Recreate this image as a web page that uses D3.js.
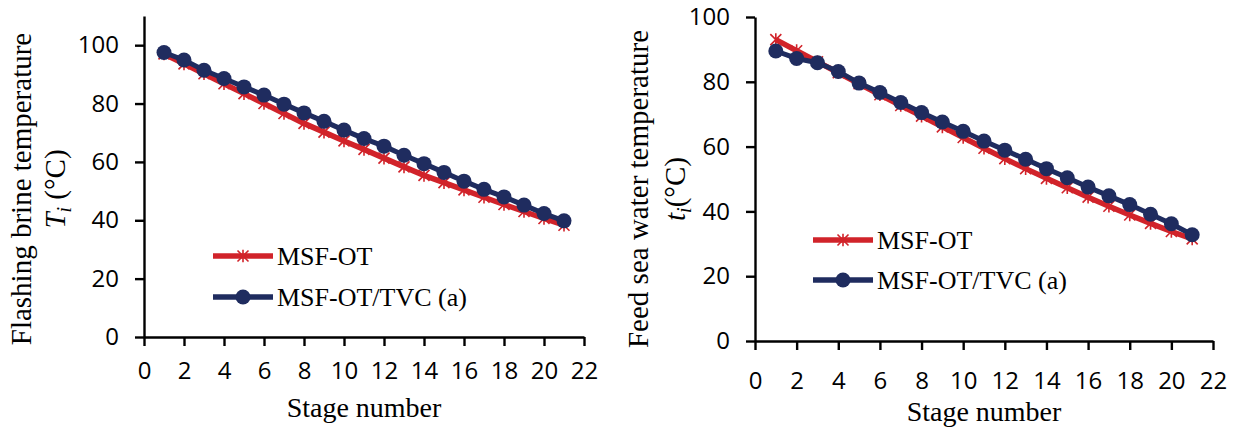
<!DOCTYPE html>
<html>
<head>
<meta charset="utf-8">
<script src="https://cdn.jsdelivr.net/npm/d3@7"></script>
<style>
  body { margin: 0; background: #fff; }
  svg { display: block; }
</style>
</head>
<body>
<div id="chart"></div>
<script>
// Data
var stages = d3.range(1, 22);
var brineOT  = [97.0, 93.6, 90.2, 86.8, 83.4, 80.0, 76.6, 73.2, 70.2, 67.2, 64.3, 61.3, 58.3, 55.4, 52.9, 50.4, 47.9, 45.4, 43.0, 40.6, 38.3];
var brineTVC = [97.5, 94.9, 91.4, 88.6, 85.7, 82.9, 79.8, 76.8, 73.9, 70.9, 68.0, 65.4, 62.3, 59.4, 56.4, 53.4, 50.6, 48.0, 45.2, 42.3, 39.8];
var feedOT   = [93.0, 89.6, 86.2, 82.8, 79.4, 76.0, 72.7, 69.4, 66.1, 62.8, 59.5, 56.3, 53.2, 50.2, 47.3, 44.4, 41.6, 38.9, 36.3, 33.8, 31.5];
var feedTVC  = [89.5, 87.2, 85.9, 83.2, 79.6, 76.7, 73.6, 70.5, 67.6, 64.7, 61.7, 58.9, 56.1, 53.2, 50.4, 47.5, 44.8, 42.1, 39.1, 36.2, 32.8];
var xTicks = d3.range(0, 23, 2);
var yTicks = [0, 20, 40, 60, 80, 100];
var seriesNames = ["MSF-OT", "MSF-OT/TVC (a)"];

var red = "#d1232a";
var navy = "#1f2c5f";

var svg = d3.select("#chart")
            .append("svg")
            .attr("width", 1236)
            .attr("height", 439);

// Panel settings
var panels = [
  {x0: 144, x1: 584, y0: 337, y1: 16, ymax: 110, ot: brineOT, tvc: brineTVC,
   title1: "Flashing brine temperature", sym: "T", sep: " ", t1x: 31, t2x: 65, tcy: 189,
   xlabPad: 16, xtitleY: 417, legX: 213, legY: [256, 297]},
  {x0: 755, x1: 1213, y0: 341, y1: 17, ymax: 100, ot: feedOT, tvc: feedTVC,
   title1: "Feed sea water temperature", sym: "t", sep: "", t1x: 648, t2x: 685, tcy: 189,
   xlabPad: 22, xtitleY: 421, legX: 813, legY: [240, 280]}
];

// Asterisk marker (x plus vertical bar)
function asterisk(s) {
  return "M" + (-s) + "," + (-s) + "L" + s + "," + s +
         "M" + (-s) + "," + s + "L" + s + "," + (-s) +
         "M0," + (-s * 1.15) + "L0," + (s * 1.15);
}

panels.forEach(function(p) {
  var x = d3.scaleLinear().domain([0, 22]).range([p.x0, p.x1]);
  var y = d3.scaleLinear().domain([0, p.ymax]).range([p.y0, p.y1]);

  // Axes
  var gx = svg.append("g")
              .attr("transform", "translate(0," + p.y0 + ")")
              .call(d3.axisBottom(x).tickValues(xTicks).tickSize(9).tickSizeOuter(0).tickPadding(p.xlabPad));
  var gy = svg.append("g")
               .attr("transform", "translate(" + p.x0 + ",0)")
               .call(d3.axisLeft(y).tickValues(yTicks).tickSize(9).tickSizeOuter(0).tickPadding(16));

  [gx, gy].forEach(function(g) {
    g.select(".domain").attr("stroke", "#000").attr("stroke-width", 2.4);
    g.selectAll(".tick line").attr("stroke", "#000").attr("stroke-width", 2.4);
    g.selectAll(".tick text")
     .attr("fill", "#000")
     .style("font-family", "'Open Sans', sans-serif")
     .style("font-size", "24px");
  });

  // Axis titles
  svg.append("text")
     .attr("transform", "translate(" + ((p.x0 + p.x1) / 2) + "," + p.xtitleY + ")")
     .attr("text-anchor", "middle")
     .style("font-family", "'Liberation Serif', 'Times New Roman', serif")
     .style("font-size", "28px")
     .text("Stage number");

  svg.append("text")
     .attr("transform", "translate(" + p.t1x + "," + p.tcy + ") rotate(-90)")
     .attr("text-anchor", "middle")
     .style("font-family", "'Liberation Serif', 'Times New Roman', serif")
     .style("font-size", "29px")
     .text(p.title1);

  var t2 = svg.append("text")
              .attr("transform", "translate(" + p.t2x + "," + p.tcy + ") rotate(-90)")
              .attr("text-anchor", "middle")
              .style("font-family", "'Liberation Serif', 'Times New Roman', serif")
              .style("font-size", "29px");
  t2.append("tspan").style("font-style", "italic").text(p.sym);
  t2.append("tspan").style("font-style", "italic").style("font-size", "20px").attr("dy", 6).text("i");
  t2.append("tspan").attr("dy", -6).text(p.sep + "(°C)");

  var line = d3.line()
               .x(function(d, i) { return x(stages[i]); })
               .y(function(d) { return y(d); });

  // MSF-OT series
  svg.append("path")
     .datum(p.ot)
     .attr("d", line)
     .attr("fill", "none")
     .attr("stroke", red)
     .attr("stroke-width", 5.5);
  svg.append("g")
     .selectAll("path")
     .data(p.ot)
     .enter().append("path")
     .attr("transform", function(d, i) { return "translate(" + x(stages[i]) + "," + y(d) + ")"; })
     .attr("d", asterisk(5.5))
     .attr("stroke", red)
     .attr("stroke-width", 1.6);

  // MSF-OT/TVC series
  svg.append("path")
     .datum(p.tvc)
     .attr("d", line)
     .attr("fill", "none")
     .attr("stroke", navy)
     .attr("stroke-width", 5);
  svg.append("g")
     .selectAll("circle")
     .data(p.tvc)
     .enter().append("circle")
     .attr("cx", function(d, i) { return x(stages[i]); })
     .attr("cy", function(d) { return y(d); })
     .attr("r", 7.5)
     .attr("fill", navy);

  // Legend
  var leg = svg.append("g");
  seriesNames.forEach(function(name, k) {
    var ly = p.legY[k];
    var col = k === 0 ? red : navy;
    leg.append("line")
       .attr("x1", p.legX).attr("x2", p.legX + 60)
       .attr("y1", ly).attr("y2", ly)
       .attr("stroke", col)
       .attr("stroke-width", 5.5);
    if (k === 0) {
      leg.append("path")
         .attr("transform", "translate(" + (p.legX + 30) + "," + ly + ")")
         .attr("d", asterisk(5.5))
         .attr("stroke", red)
         .attr("stroke-width", 1.6);
    } else {
      leg.append("circle")
         .attr("cx", p.legX + 30).attr("cy", ly)
         .attr("r", 7.5)
         .attr("fill", navy);
    }
    leg.append("text")
       .attr("x", p.legX + 64)
       .attr("y", ly + 9)
       .style("font-family", "'Liberation Serif', 'Times New Roman', serif")
       .style("font-size", "26px")
       .text(name);
  });
});
</script>
</body>
</html>
